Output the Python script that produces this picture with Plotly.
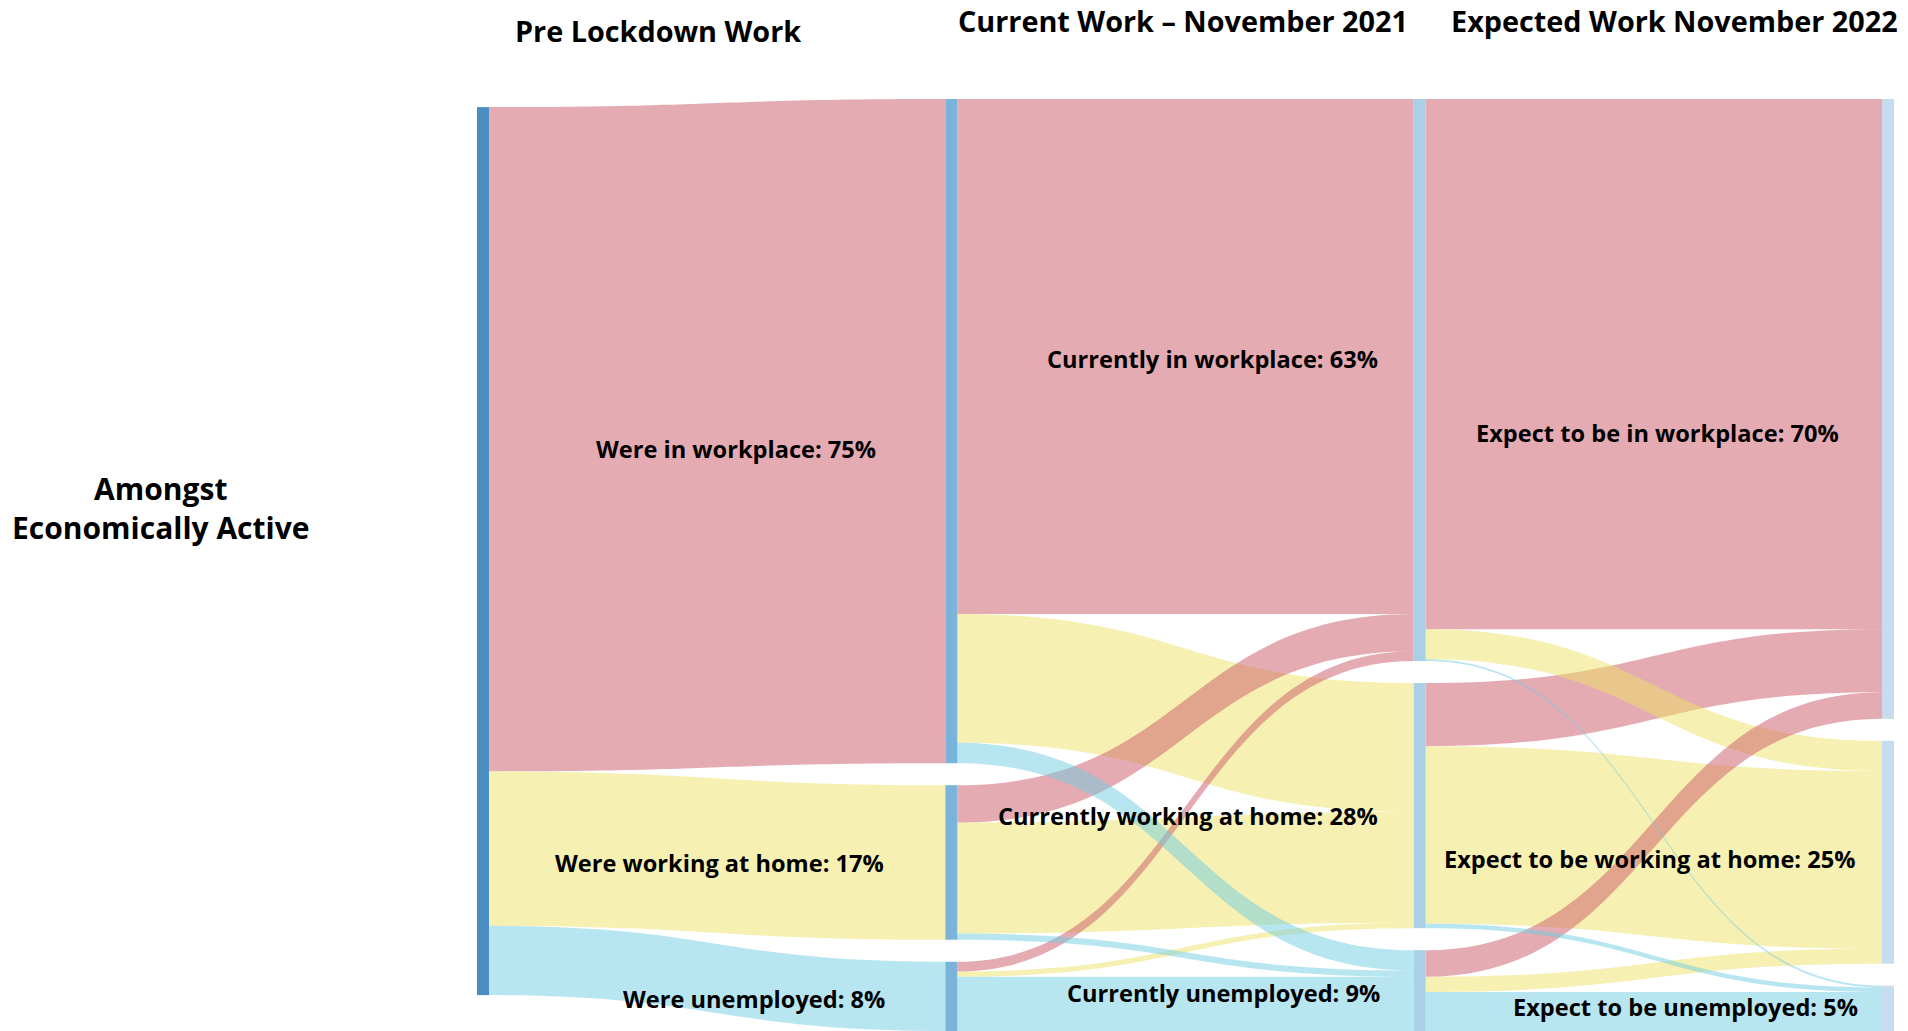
import plotly.graph_objects as go

# ---- data -----------------------------------------------------------------
root_name = "Amongst<br>Economically Active"
stage_titles = ["Pre Lockdown Work", "Current Work – November 2021", "Expected Work November 2022"]

pre_names = ["Were in workplace", "Were working at home", "Were unemployed"]
cur_names = ["Currently in workplace", "Currently working at home", "Currently unemployed"]
exp_names = ["Expect to be in workplace", "Expect to be working at home", "Expect to be unemployed"]

# share of the economically active in each pre-lockdown situation (%)
pre_share = [74.8, 17.4, 7.8]

# rows: pre-lockdown situation, columns: current situation (%)
pre_to_cur = [
    [58.0, 14.5, 2.3],
    [4.2, 12.5, 0.7],
    [1.1, 0.6, 6.1],
]

# rows: current situation, columns: expected situation (%)
cur_to_exp = [
    [59.7, 3.4, 0.2],
    [7.1, 20.0, 0.5],
    [3.0, 1.7, 4.4],
]

# ---- styling ----------------------------------------------------------------
FONT = "Open Sans"
flow_colours = ["rgba(203,87,101,0.5)", "rgba(237,227,101,0.5)", "rgba(111,205,225,0.5)"]
node_colours = ["#4a8ec4"] + ["#7bb4da"] * 3 + ["#a9d0e6"] * 3 + ["#c8dcef"] * 3

W, H = 1908, 1031

# node indices
ROOT = 0
PRE = [1, 2, 3]
CUR = [4, 5, 6]
EXP = [7, 8, 9]

sources, targets, values, colours = [], [], [], []


def add(s, t, v, k):
    sources.append(s)
    targets.append(t)
    values.append(v)
    colours.append(flow_colours[k])


for k in range(3):
    add(ROOT, PRE[k], pre_share[k], k)

# drawing order decides which band sits on top where bands cross
order_pc = [(0, 0), (0, 1), (1, 1), (2, 1), (1, 0), (2, 0), (0, 2), (1, 2), (2, 2)]
for i, j in order_pc:
    add(PRE[i], CUR[j], pre_to_cur[i][j], j)

order_ce = [(0, 0), (1, 0), (0, 1), (1, 1), (2, 1), (2, 0), (0, 2), (1, 2), (2, 2)]
for i, j in order_ce:
    add(CUR[i], EXP[j], cur_to_exp[i][j], j)

cur_totals = [sum(pre_to_cur[i][j] for i in range(3)) for j in range(3)]
exp_totals = [sum(cur_to_exp[i][j] for i in range(3)) for j in range(3)]

names = [root_name.replace("<br>", " ")] + pre_names + cur_names + exp_names
totals = [sum(pre_share)] + pre_share + cur_totals + exp_totals

fig = go.Figure(
    go.Sankey(
        domain=dict(x=[477 / W, 1894 / W], y=[0, 1 - 99 / H]),
        node=dict(
            label=[""] * len(names),
            customdata=[f"{n}: {t:.0f}%" for n, t in zip(names, totals)],
            hovertemplate="%{customdata}<extra></extra>",
            color=node_colours,
            thickness=12,
            pad=22,
            line=dict(width=0),
        ),
        link=dict(
            source=sources,
            target=targets,
            value=values,
            color=colours,
            hovertemplate="%{value:.1f}%<extra></extra>",
        ),
    )
)

annotations = []


def label(text, px, py, size):
    annotations.append(
        dict(
            text=f"<b>{text}</b>",
            x=px / W,
            y=1 - py / H,
            xref="paper",
            yref="paper",
            xanchor="center",
            yanchor="middle",
            showarrow=False,
            font=dict(family=FONT, size=size, color="#000000"),
        )
    )


# column headings
for title, (px, py) in zip(stage_titles, [(658, 30), (1183, 21), (1674, 21)]):
    label(title, px, py, 28.8)

label(root_name, 161, 508, 30)

label_pos = {
    1: (736, 449), 2: (719, 863), 3: (754, 999),
    4: (1212, 359), 5: (1188, 816), 6: (1223, 993),
    7: (1657, 433), 8: (1649, 859), 9: (1685, 1007),
}
for idx, (px, py) in label_pos.items():
    label(f"{names[idx]}: {round(totals[idx])}%", px, py, 23.6)

fig.update_layout(
    width=W,
    height=H,
    margin=dict(l=0, r=0, t=0, b=0),
    paper_bgcolor="white",
    plot_bgcolor="white",
    font=dict(family=FONT),
    annotations=annotations,
)

fig.write_html("out.html")
